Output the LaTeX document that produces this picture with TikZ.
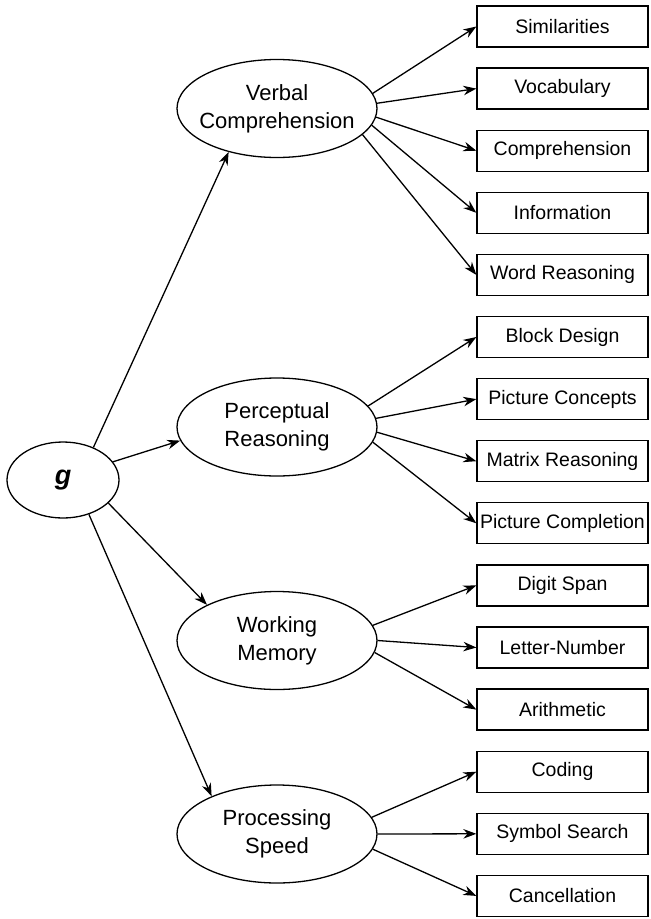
\documentclass[tikz,border=0pt]{standalone}
\usepackage{fontspec}
\setmainfont{Liberation Sans}
\usetikzlibrary{arrows.meta,shapes.geometric}
\begin{document}
\begin{tikzpicture}[x=1pt,y=-1pt,
  factor/.style={draw,ellipse,line width=1.3pt,minimum width=200pt,minimum height=98pt,inner xsep=-40pt,inner ysep=0pt,align=center,font=\fontsize{22}{28}\selectfont},
  testbox/.style={draw,rectangle,line width=1.3pt,minimum width=171pt,minimum height=41pt,inner sep=0pt,font=\fontsize{19.5}{23}\selectfont},
  arr/.style={line width=1.3pt,-{Stealth[length=13pt,width=9.5pt]}}]
\useasboundingbox (0,0) rectangle (651,919);
\node[draw,ellipse,line width=1.3pt,minimum width=112pt,minimum height=76pt,inner sep=0pt,font=\fontsize{27}{30}\selectfont] (g) at (63,480) {\textbf{\textit{g}}};
\node[factor] (vc) at (277,108.5) {Verbal\\Comprehension};
\node[factor] (pr) at (277,427) {Perceptual\\Reasoning};
\node[factor] (wm) at (277,640.5) {Working\\Memory};
\node[factor] (ps) at (277,834) {Processing\\Speed};
\node[testbox] (b1) at (562.5,26.5) {Similarities};
\node[testbox] (b2) at (562.5,88.6) {Vocabulary};
\node[testbox] (b3) at (562.5,150.7) {Comprehension};
\node[testbox] (b4) at (562.5,212.8) {Information};
\node[testbox] (b5) at (562.5,274.9) {Word Reasoning};
\node[testbox] (b6) at (562.5,337.0) {Block Design};
\node[testbox] (b7) at (562.5,399.1) {Picture Concepts};
\node[testbox] (b8) at (562.5,461.2) {Matrix Reasoning};
\node[testbox] (b9) at (562.5,523.3) {Picture Completion};
\node[testbox] (b10) at (562.5,585.4) {Digit Span};
\node[testbox] (b11) at (562.5,647.5) {Letter-Number};
\node[testbox] (b12) at (562.5,709.6) {Arithmetic};
\node[testbox] (b13) at (562.5,771.7) {Coding};
\node[testbox] (b14) at (562.5,833.8) {Symbol Search};
\node[testbox] (b15) at (562.5,895.9) {Cancellation};
% g to factors
\draw[arr] (g.47) -- (vc.222);
\draw[arr] (g.20) -- (pr.188);
\draw[arr] (g.-27.5) -- (wm.153);
\draw[arr] (g.-53.7) -- (ps.150);
% verbal
\draw[arr] (vc.9.6) -- (b1.west);
\draw[arr] (vc.3.5) -- (b2.west);
\draw[arr] (vc.-5) -- (b3.west);
\draw[arr] (vc.-10.6) -- (b4.west);
\draw[arr] (vc.-17) -- (b5.west);
% perceptual
\draw[arr] (pr.13.4) -- (b6.west);
\draw[arr] (pr.5.7) -- (b7.west);
\draw[arr] (pr.-3) -- (b8.west);
\draw[arr] (pr.-9) -- (b9.west);
% working
\draw[arr] (wm.9.5) -- (b10.west);
\draw[arr] (wm.0) -- (b11.west);
\draw[arr] (wm.-7) -- (b12.west);
% processing
\draw[arr] (ps.10) -- (b13.west);
\draw[arr] (ps.-0.5) -- (b14.west);
\draw[arr] (ps.-9) -- (b15.west);
\end{tikzpicture}
\end{document}
